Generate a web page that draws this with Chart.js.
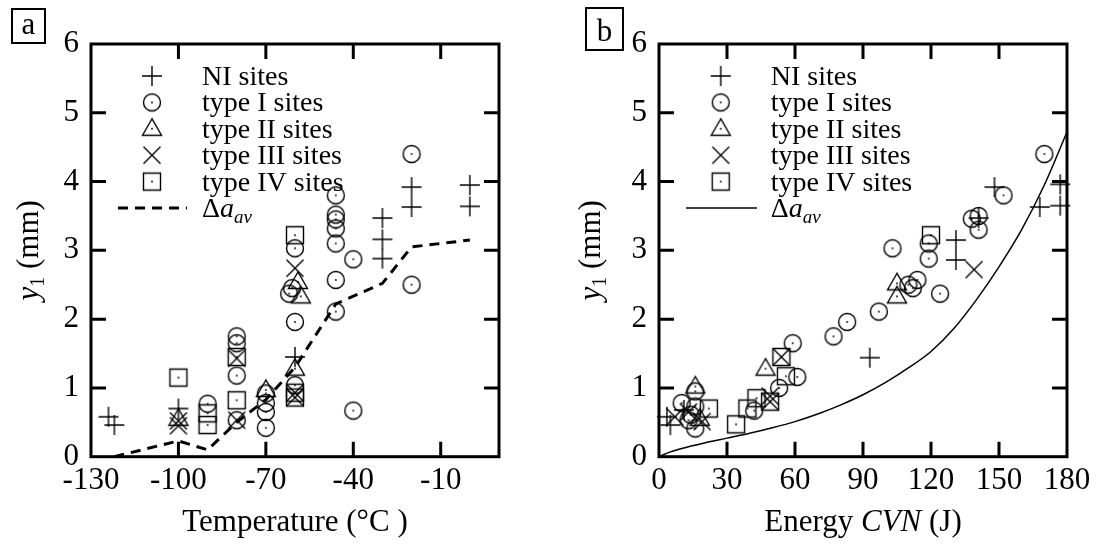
<!DOCTYPE html>
<html><head><meta charset="utf-8">
<script src="https://cdn.jsdelivr.net/npm/chart.js@4.4.0/dist/chart.umd.min.js"></script>
<style>
html,body{margin:0;padding:0;background:#fff;}
#wrap{position:relative;width:1097px;height:545px;overflow:hidden;background:#fff;}
canvas{position:absolute;top:0;}
</style></head><body>
<div id="wrap"><canvas id="ca" width="548" height="545" style="left:0"></canvas><canvas id="cb" width="549" height="545" style="left:548px"></canvas></div>
<script>
// ---------- Tick labels ----------
const xTicksA = [-130, -100, -70, -40, -10];
const xTicksB = [0, 30, 60, 90, 120, 150, 180];
const yTicks = [0, 1, 2, 3, 4, 5, 6];
const legendLabels = ['NI sites', 'type I sites', 'type II sites', 'type III sites', 'type IV sites'];

// ---------- Panel a : Temperature (°C) ----------
const aNI_x = [-124, -122, -100, -60, -30, -30, -30, -20, -20, 0, 0];
const aNI_y = [0.58, 0.46, 0.70, 1.45, 3.47, 3.16, 2.88, 3.92, 3.63, 3.95, 3.64];
const aI_x = [-90, -80, -80, -80, -80, -70, -70, -70, -70, -62, -61, -60, -60, -60, -46, -46, -46, -46, -46, -46, -46, -40, -40, -20, -20];
const aI_y = [0.77, 1.75, 1.65, 1.18, 0.53, 0.92, 0.78, 0.65, 0.42, 2.37, 2.45, 3.03, 1.96, 1.04, 3.80, 3.52, 3.45, 3.32, 3.10, 2.57, 2.11, 2.87, 0.67, 4.40, 2.50];
const aII_x = [-100, -70, -59, -58, -60];
const aII_y = [0.55, 0.97, 2.54, 2.33, 1.28];
const aIII_x = [-100, -100, -80, -80, -60, -60, -60];
const aIII_y = [0.52, 0.45, 1.43, 0.53, 2.74, 0.93, 0.86];
const aIV_x = [-100, -90, -90, -80, -80, -60, -60, -60];
const aIV_y = [1.15, 0.63, 0.46, 1.45, 0.82, 3.22, 0.93, 0.86];
const aAv_x = [-122, -100, -90, -80, -70, -60, -46, -30, -20, 0];
const aAv_y = [0, 0.23, 0.10, 0.50, 0.83, 1.30, 2.22, 2.52, 3.05, 3.15];

// ---------- Panel b : Energy CVN (J) ----------
const bNI_x = [3.5, 5, 11, 93, 131, 131, 141, 148, 168, 177, 177];
const bNI_y = [0.58, 0.46, 0.68, 1.44, 3.15, 2.86, 3.47, 3.92, 3.63, 3.96, 3.65];
const bI_x = [170, 152, 138, 141, 141, 119, 119, 103, 110, 114, 112, 124, 97, 83, 77, 59, 61, 53, 42, 16, 10, 16, 14, 16, 13];
const bI_y = [4.40, 3.80, 3.46, 3.50, 3.30, 3.10, 2.88, 3.03, 2.50, 2.57, 2.45, 2.37, 2.11, 1.96, 1.75, 1.65, 1.16, 1.00, 0.67, 0.95, 0.78, 0.73, 0.61, 0.41, 0.53];
const bII_x = [105, 105, 47, 16, 18];
const bII_y = [2.52, 2.33, 1.28, 1.02, 0.55];
const bIII_x = [139, 54, 49, 7, 19, 13, 49];
const bIII_y = [2.72, 1.45, 0.80, 0.58, 0.51, 0.65, 0.88];
const bIV_x = [120, 54, 56, 43, 39, 34, 49, 22];
const bIV_y = [3.22, 1.45, 1.17, 0.85, 0.70, 0.47, 0.80, 0.70];
const bAv_x = [0, 5, 10, 20, 30, 40, 50, 60, 70, 80, 90, 100, 110, 120, 130, 140, 150, 160, 170, 180];
const bAv_y = [0, 0.07, 0.12, 0.20, 0.27, 0.34, 0.42, 0.51, 0.62, 0.75, 0.90, 1.08, 1.29, 1.53, 1.86, 2.28, 2.76, 3.30, 3.95, 4.72];

// ---------- helpers ----------
const FAM = '"Liberation Serif", "Times New Roman", serif';
const TICK_SIZE = 31, TITLE_SIZE = 31, LEG_SIZE = 28;

function pts(xs, ys) { return xs.map((x, i) => ({ x: x, y: ys[i] })); }

function marker(shape) {
  const s = 26, m = s / 2;
  const c = document.createElement('canvas');
  c.width = s; c.height = s;
  const g = c.getContext('2d');
  g.strokeStyle = '#000'; g.fillStyle = '#000'; g.lineWidth = 1.4;
  g.beginPath();
  if (shape === 'plus') {
    g.moveTo(m - 10, m); g.lineTo(m + 10, m); g.moveTo(m, m - 10); g.lineTo(m, m + 10);
    g.stroke();
  } else if (shape === 'cross') {
    g.moveTo(m - 8.5, m - 8.5); g.lineTo(m + 8.5, m + 8.5); g.moveTo(m + 8.5, m - 8.5); g.lineTo(m - 8.5, m + 8.5);
    g.stroke();
  } else {
    if (shape === 'circle') g.arc(m, m, 8.5, 0, Math.PI * 2);
    else if (shape === 'square') g.rect(m - 8.5, m - 8.5, 17, 17);
    else if (shape === 'triangle') { g.moveTo(m, m - 10); g.lineTo(m - 9.5, m + 6.5); g.lineTo(m + 9.5, m + 6.5); g.closePath(); }
    g.stroke();
    g.beginPath(); g.arc(m, m, 0.9, 0, Math.PI * 2); g.fill();
  }
  return c;
}
const IMG = { plus: marker('plus'), circle: marker('circle'), triangle: marker('triangle'), cross: marker('cross'), square: marker('square') };
const legendShapes = ['plus', 'circle', 'triangle', 'cross', 'square'];

function drawRich(ctx, parts, x, y, align) {
  let w = 0;
  parts.forEach(p => { ctx.font = (p.style || '') + ' ' + p.size + 'px ' + FAM; p.w = ctx.measureText(p.t).width; w += p.w; });
  let cx = align === 'center' ? x - w / 2 : x;
  ctx.textAlign = 'left'; ctx.textBaseline = 'alphabetic'; ctx.fillStyle = '#000';
  parts.forEach(p => { ctx.font = (p.style || '') + ' ' + p.size + 'px ' + FAM; ctx.fillText(p.t, cx, y + (p.dy || 0)); cx += p.w; });
}

function scatterSet(label, data, shape) {
  return { type: 'scatter', label: label, data: data, pointStyle: IMG[shape], pointRadius: 9, showLine: false, clip: false };
}

function makeChart(canvasId, cfg) {
  const deco = {
    id: 'deco',
    afterDraw(chart) {
      const ctx = chart.ctx, a = chart.chartArea, xs = chart.scales.x, ys = chart.scales.y;
      ctx.save();
      ctx.strokeStyle = '#000'; ctx.lineWidth = 3; ctx.setLineDash([]);
      // inner ticks
      ctx.beginPath();
      cfg.xTicks.filter(v => v > xs.min && v < xs.max).forEach(v => {
        const px = xs.getPixelForValue(v);
        ctx.moveTo(px, a.bottom); ctx.lineTo(px, a.bottom - 15);
        ctx.moveTo(px, a.top); ctx.lineTo(px, a.top + 15);
      });
      yTicks.filter(v => v > ys.min && v < ys.max).forEach(v => {
        const py = ys.getPixelForValue(v);
        ctx.moveTo(a.left, py); ctx.lineTo(a.left + 15, py);
        ctx.moveTo(a.right, py); ctx.lineTo(a.right - 15, py);
      });
      ctx.stroke();
      // frame
      ctx.strokeRect(a.left, a.top, a.right - a.left, a.bottom - a.top);
      // legend
      const L = cfg.legend;
      for (let i = 0; i < 5; i++) {
        const yy = L.y0 + i * L.dy;
        ctx.drawImage(IMG[legendShapes[i]], L.mx - 13, yy - 13);
        drawRich(ctx, [{ t: legendLabels[i], size: LEG_SIZE }], L.tx, yy + 9, 'left');
      }
      const yl = L.y0 + 5 * L.dy;
      ctx.beginPath();
      ctx.lineWidth = cfg.lineWidth; ctx.setLineDash(cfg.dash);
      ctx.moveTo(L.lx0, yl); ctx.lineTo(L.lx1, yl); ctx.stroke();
      ctx.setLineDash([]);
      drawRich(ctx, [{ t: '\u0394', size: LEG_SIZE }, { t: 'a', size: LEG_SIZE, style: 'italic' }, { t: 'av', size: 19, style: 'italic', dy: 6 }], L.tx, yl + 9, 'left');
      // y title
      ctx.save();
      ctx.translate(cfg.yTitleX, (a.top + a.bottom) / 2);
      ctx.rotate(-Math.PI / 2);
      drawRich(ctx, [{ t: 'y', size: TITLE_SIZE, style: 'italic' }, { t: '1', size: 20, dy: 6 }, { t: ' (mm)', size: TITLE_SIZE }], 0, 10, 'center');
      ctx.restore();
      // x title
      drawRich(ctx, cfg.xTitle, (a.left + a.right) / 2, 531, 'center');
      // panel label box
      const B = cfg.box;
      ctx.lineWidth = 2;
      ctx.strokeRect(B.x, B.y, B.w, B.h);
      drawRich(ctx, [{ t: B.t, size: 31 }], B.x + B.w / 2, B.y + B.h - 9, 'center');
      ctx.restore();
    }
  };
  return new Chart(document.getElementById(canvasId), {
    type: 'scatter',
    data: { datasets: cfg.datasets },
    options: {
      responsive: false, animation: false, maintainAspectRatio: false,
      layout: { padding: { left: 0, right: cfg.padRight, top: 44, bottom: 0 } },
      plugins: { legend: { display: false }, tooltip: { enabled: false } },
      scales: {
        x: {
          type: 'linear', min: cfg.xMin, max: cfg.xMax,
          afterBuildTicks: s => { s.ticks = cfg.xTicks.map(v => ({ value: v })); },
          afterFit: s => { s.height = 88.3; },
          grid: { display: false, drawTicks: false }, border: { display: false },
          ticks: { font: { family: FAM, size: TICK_SIZE }, color: '#000', padding: 6, maxRotation: 0, autoSkip: false }
        },
        y: {
          type: 'linear', min: 0, max: 6,
          afterBuildTicks: s => { s.ticks = yTicks.map(v => ({ value: v })); },
          afterFit: s => { s.width = cfg.yWidth; },
          grid: { display: false, drawTicks: false }, border: { display: false },
          ticks: { font: { family: FAM, size: TICK_SIZE }, color: '#000', padding: 12 }
        }
      }
    },
    plugins: [deco]
  });
}

makeChart('ca', {
  xMin: -130, xMax: 10, xTicks: xTicksA, yWidth: 91, padRight: 49, yTitleX: 28,
  lineWidth: 3, dash: [10, 7],
  legend: { mx: 152, tx: 202, y0: 76, dy: 26.4, lx0: 118, lx1: 187 },
  xTitle: [{ t: 'Temperature (\u00B0C )', size: TITLE_SIZE }],
  box: { x: 12, y: 9, w: 33, h: 34, t: 'a' },
  datasets: [
    scatterSet(legendLabels[0], pts(aNI_x, aNI_y), 'plus'),
    scatterSet(legendLabels[1], pts(aI_x, aI_y), 'circle'),
    scatterSet(legendLabels[2], pts(aII_x, aII_y), 'triangle'),
    scatterSet(legendLabels[3], pts(aIII_x, aIII_y), 'cross'),
    scatterSet(legendLabels[4], pts(aIV_x, aIV_y), 'square'),
    { type: 'line', label: '\u0394a_av', data: pts(aAv_x, aAv_y), showLine: true, pointRadius: 0, borderColor: '#000', borderWidth: 3, borderDash: [10, 7], fill: false, tension: 0, clip: false }
  ]
});

makeChart('cb', {
  xMin: 0, xMax: 180, xTicks: xTicksB, yWidth: 111, padRight: 30, yTitleX: 42,
  lineWidth: 1.5, dash: [],
  legend: { mx: 172.7, tx: 222.7, y0: 76, dy: 26.4, lx0: 138, lx1: 209 },
  xTitle: [{ t: 'Energy ', size: TITLE_SIZE }, { t: 'CVN', size: TITLE_SIZE, style: 'italic' }, { t: ' (J)', size: TITLE_SIZE }],
  box: { x: 38, y: 8, w: 37, h: 42, t: 'b' },
  datasets: [
    scatterSet(legendLabels[0], pts(bNI_x, bNI_y), 'plus'),
    scatterSet(legendLabels[1], pts(bI_x, bI_y), 'circle'),
    scatterSet(legendLabels[2], pts(bII_x, bII_y), 'triangle'),
    scatterSet(legendLabels[3], pts(bIII_x, bIII_y), 'cross'),
    scatterSet(legendLabels[4], pts(bIV_x, bIV_y), 'square'),
    { type: 'line', label: '\u0394a_av', data: pts(bAv_x, bAv_y), showLine: true, pointRadius: 0, borderColor: '#000', borderWidth: 1.5, fill: false, cubicInterpolationMode: 'monotone', clip: false }
  ]
});
</script>
</body></html>
